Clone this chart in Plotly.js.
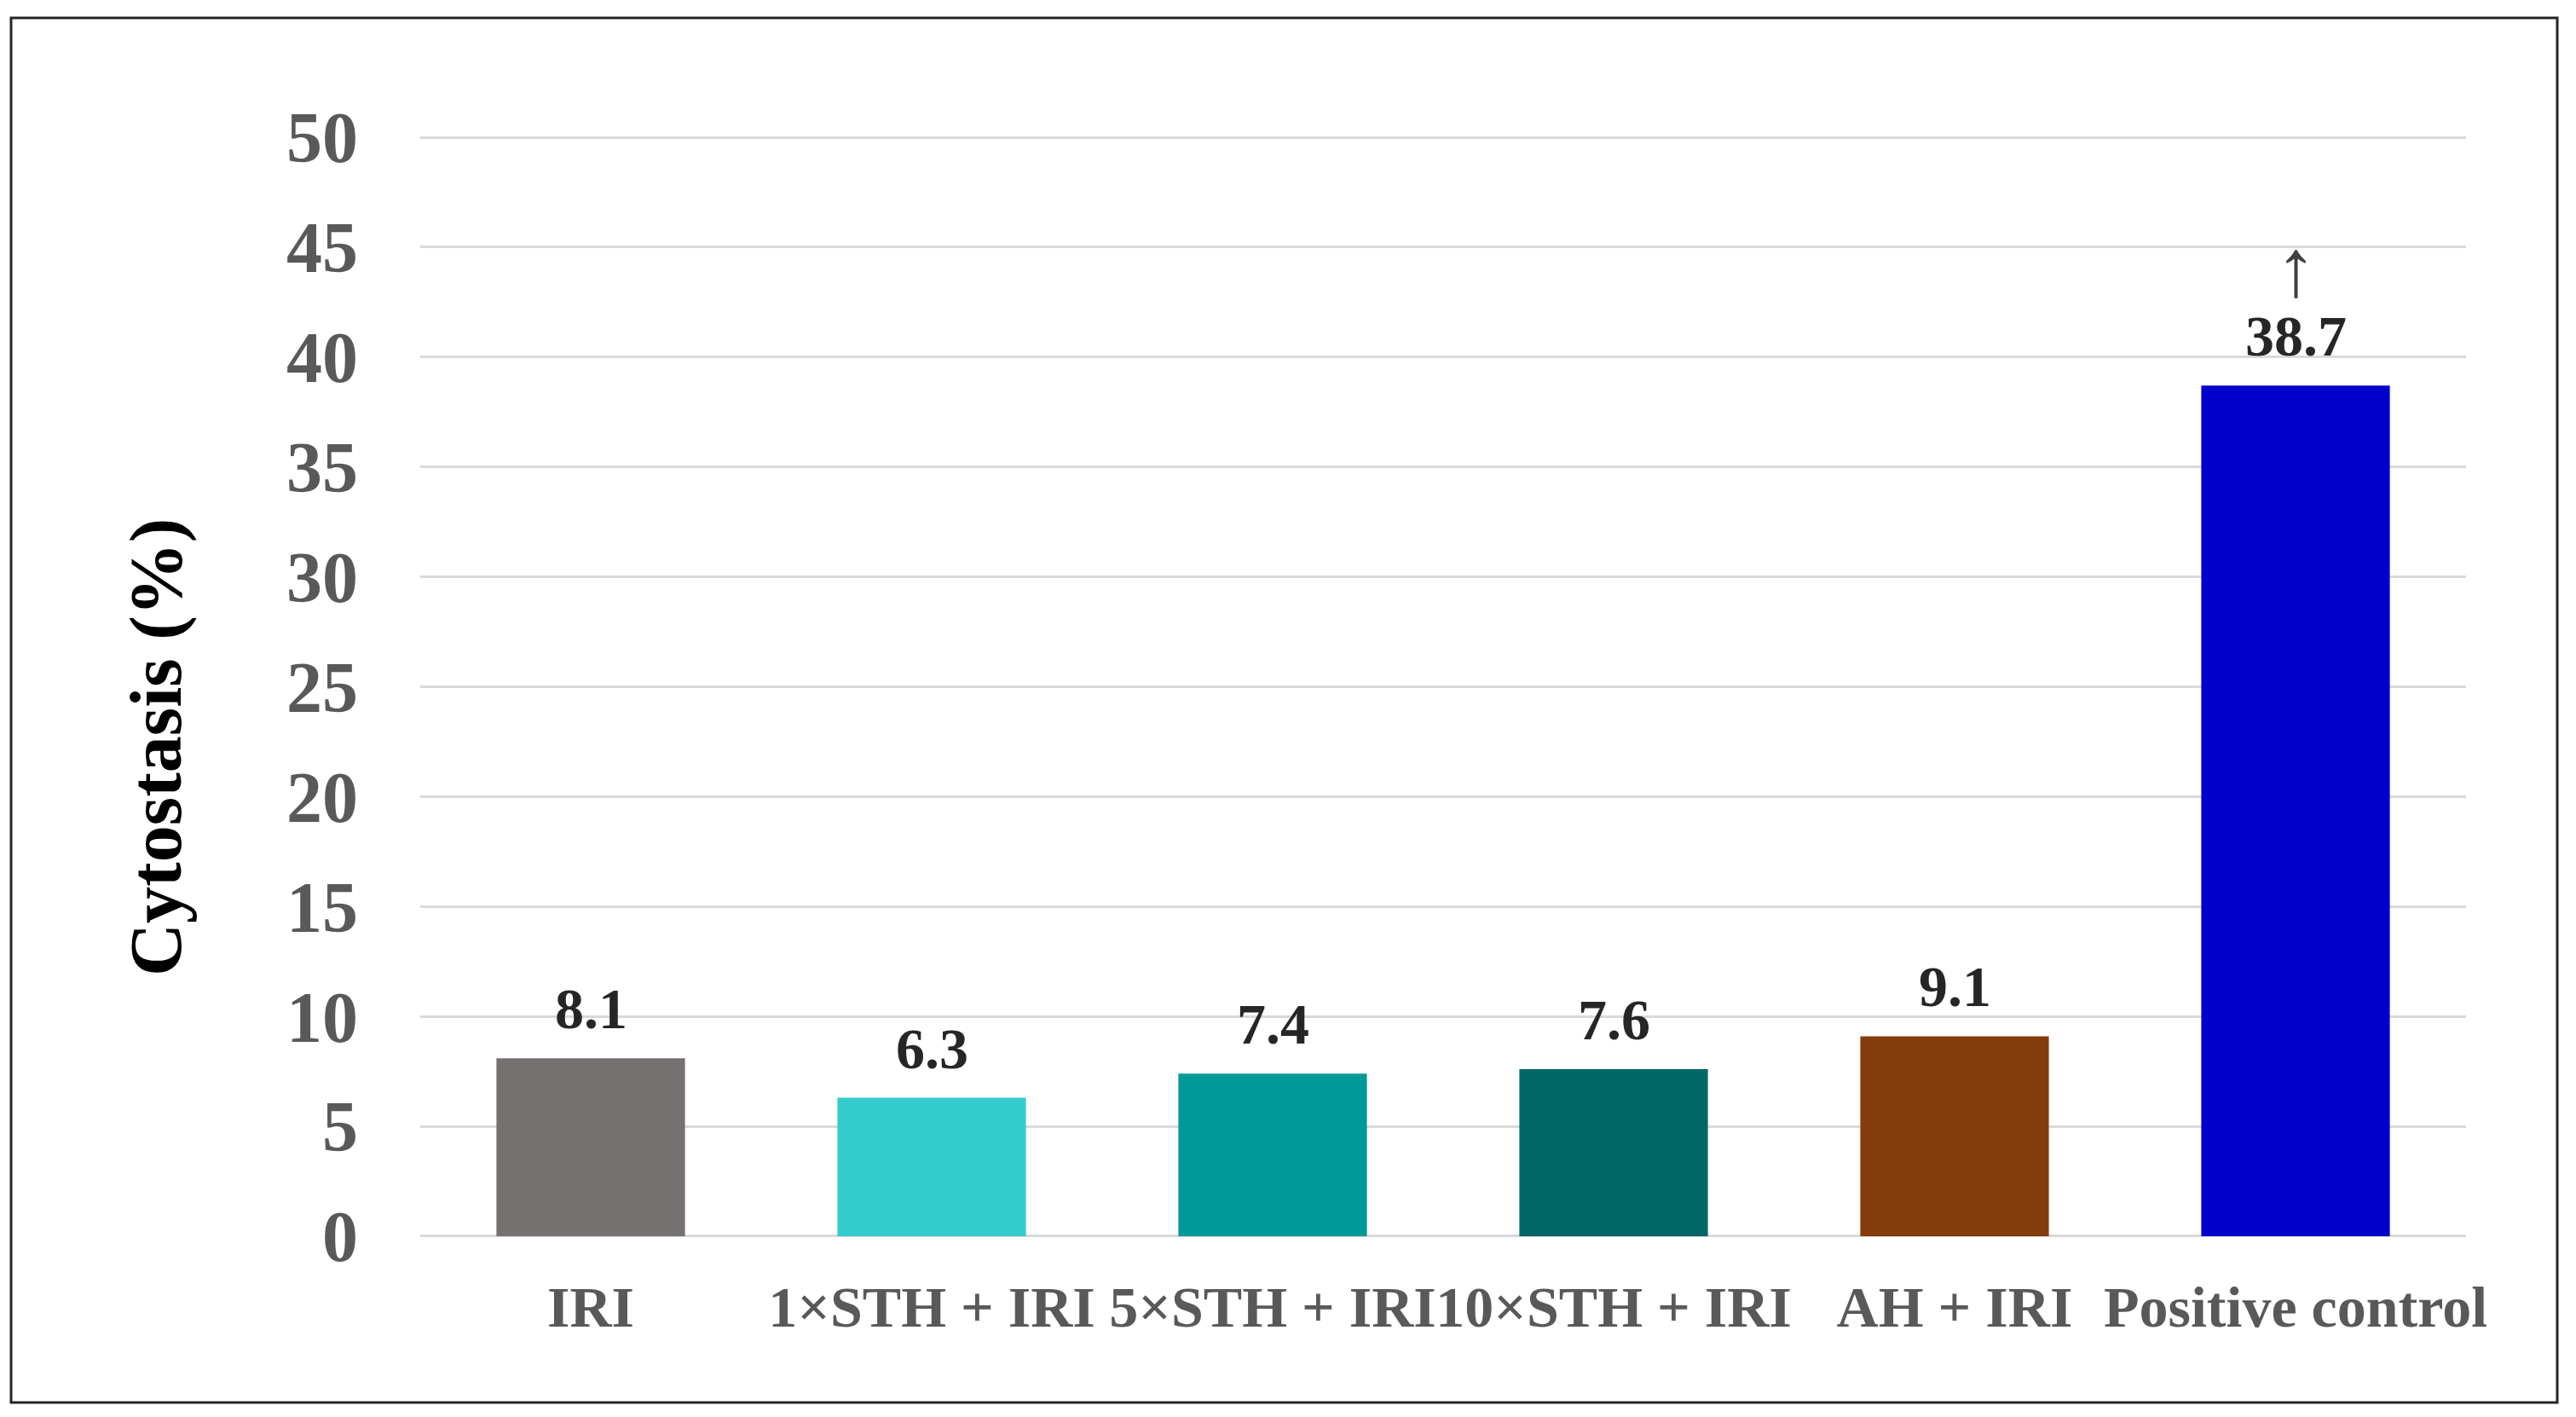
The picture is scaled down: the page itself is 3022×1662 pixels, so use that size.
<!DOCTYPE html>
<html>
<head>
<meta charset="utf-8">
<script src="https://cdn.plot.ly/plotly-3.0.1.min.js"></script>
<style>html,body{margin:0;padding:0;background:#fff;}#chart{width:3022px;height:1662px;}</style>
</head>
<body>
<div id="chart"></div>
<script>
const categories = ["IRI", "1×STH + IRI", "5×STH + IRI", "10×STH + IRI", "AH + IRI", "Positive control"];
const values = [8.1, 6.3, 7.4, 7.6, 9.1, 38.7];
const barColors = ["#767171", "#33CCCC", "#009999", "#006666", "#843C0C", "#0000CC"];
const valueLabels = ["8.1", "6.3", "7.4", "7.6", "9.1", "38.7"];
const yTicks = [0, 5, 10, 15, 20, 25, 30, 35, 40, 45, 50];
const arrowCategory = "Positive control";

const W = 3022, H = 1662;
const mL = 493, mR = 129, mT = 160, mB = 211;
const pw = W - mL - mR, ph = H - mT - mB;
const px = v => (v - mL) / pw;
const py = v => (H - v - mB) / ph;

const FONT = "Liberation Serif, Times New Roman, serif";

const trace = {
  type: "bar",
  x: categories,
  y: values,
  marker: {color: barColors, line: {width: 0}},
  hoverinfo: "none"
};

const annotations = categories.map((c, i) => {
  const lbl = "<b>" + valueLabels[i] + "</b>";
  if (c === arrowCategory) {
    return {
      x: c, y: values[i], xref: "x", yref: "y",
      text: "<span style='font-size:96px;color:#404040'>↑</span><br><span style='font-size:68px'>" + lbl + "</span>",
      showarrow: false, yanchor: "bottom", yshift: 18,
      font: {family: FONT, size: 54, color: "#262626"}
    };
  }
  return {
    x: c, y: values[i], xref: "x", yref: "y",
    text: lbl,
    showarrow: false, yanchor: "bottom", yshift: 18,
    font: {family: FONT, size: 68, color: "#262626"}
  };
});

annotations.push({
  xref: "paper", yref: "paper", x: px(183), y: py(876),
  xanchor: "center", yanchor: "middle",
  text: "<b>Cytostasis (%)</b>", textangle: -90, showarrow: false,
  font: {family: FONT, size: 86, color: "#000000"}
});

const layout = {
  width: W, height: H,
  margin: {l: mL, r: mR, t: mT, b: mB, pad: 0},
  paper_bgcolor: "#ffffff", plot_bgcolor: "#ffffff",
  showlegend: false,
  bargap: 0.447,
  font: {family: FONT},
  xaxis: {
    type: "category",
    range: [-0.5, 5.5],
    showgrid: false, zeroline: false, showline: false,
    ticks: "",
    tickangle: 0,
    tickfont: {family: FONT, size: 68, color: "#595959", weight: "bold"},
    ticklabelstandoff: 36,
    fixedrange: true
  },
  yaxis: {
    range: [-0.04, 50.04],
    tickvals: yTicks,
    ticktext: yTicks.map(String),
    showgrid: true, gridcolor: "#D9D9D9", gridwidth: 3,
    zeroline: false, showline: false,
    ticks: "",
    tickfont: {family: FONT, size: 84, color: "#595959", weight: "bold"},
    ticklabelstandoff: 72,
    fixedrange: true
  },
  annotations: annotations,
  shapes: [{
    type: "rect", xref: "paper", yref: "paper",
    x0: px(13), x1: px(3000), y0: py(1645), y1: py(21),
    line: {color: "#262626", width: 3}, fillcolor: "rgba(0,0,0,0)", layer: "above"
  }]
};

Plotly.newPlot("chart", [trace], layout, {displayModeBar: false, staticPlot: true});
</script>
</body>
</html>
